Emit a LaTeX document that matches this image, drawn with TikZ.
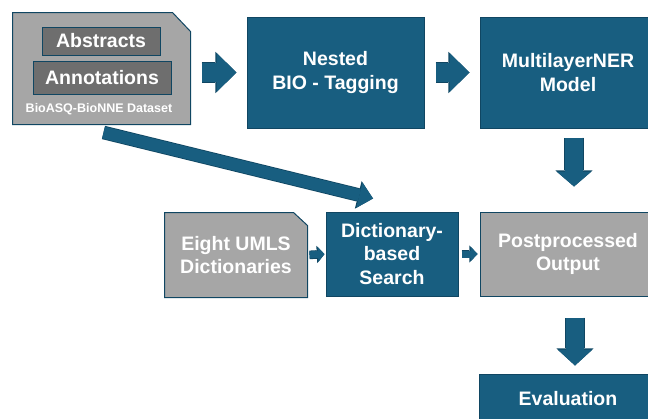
\documentclass[tikz,border=0pt]{standalone}
\usepackage{fontspec}
\setmainfont{Liberation Sans}
\usetikzlibrary{arrows.meta,positioning,backgrounds}

\definecolor{procblue}{RGB}{24,94,128}
\definecolor{edgeblue}{RGB}{16,70,98}
\definecolor{docgray}{RGB}{166,166,166}
\definecolor{innergray}{RGB}{110,110,110}

\begin{document}
\begin{tikzpicture}[x=1pt,y=-1pt]
				% We can specify options for the tikz picture using the tikzset command
				\tikzset{
				        procbox/.style={rectangle, draw=edgeblue, line width=1pt, fill=procblue, text=white, align=center, inner sep=0pt, font=\bfseries\fontsize{19.5}{23.5}\selectfont}, % the blue process boxes
				        grayfill/.style={procbox, fill=docgray}, % gray boxes
				        innerbox/.style={procbox, fill=innergray}, % dark boxes inside the dataset
				        docbox/.style={procbox, draw=none, fill=none}, % text of a box with a cut corner
				        docshape/.style={draw=edgeblue, line width=1pt, fill=docgray}, % the cut-corner outline
				        flow/.style args={#1/#2/#3}{draw=procblue, line width=#1, -{Triangle[width=#2, length=#3, line width=0pt]},
				                preaction={draw=edgeblue, line width=#1+1.6pt, -{Triangle[width=#2+2.4pt, length=#3+1.2pt, line width=0pt]}}}, % block arrows: shaft/head width/head length
				}
				\useasboundingbox (0,0) rectangle (648,418);
				\clip (0,0) rectangle (648,418);
				% The dataset with its two parts
				\node[docbox, minimum width=177pt, minimum height=111pt] (data) at (101.5,68.5) {};
				\node[innerbox, minimum width=118pt, minimum height=28pt] (abstracts) at (101,41) {Abstracts};
				\node[innerbox, minimum width=138pt, minimum height=33pt] (annotations) at (102,77.5) {Annotations};
				\node[text=white, font=\bfseries\fontsize{12.5}{14}\selectfont] (datalabel) at (99,109) {BioASQ-BioNNE Dataset};
				% Top row
				\node[procbox, minimum width=177pt, minimum height=111pt] (nested) at (335.5,72.5) {Nested\\BIO - Tagging};
				\node[procbox, minimum width=176pt, minimum height=111pt] (ner) at (568,72.5) {MultilayerNER\\Model};
				% Middle row
				\node[docbox, minimum width=142pt, minimum height=84pt] (umls) at (236,255) {Eight UMLS\\Dictionaries};
				\node[procbox, minimum width=132pt, minimum height=84pt] (dict) at (392,254) {Dictionary-\\based\\Search};
				\node[grayfill, minimum width=176pt, minimum height=84pt] (post) at (568,254) {Postprocessed\\Output};
				% Bottom row
				\node[procbox, minimum width=178pt, minimum height=50pt] (eval) at (568,399) {Evaluation};
				% The cut-corner outlines go behind their texts
				\begin{scope}[on background layer]
				    \filldraw[docshape] (data.south west) -- (data.north west) -- ([xshift=-18pt]data.north east)
				        -- ([yshift=-19pt]data.north east) -- (data.south east) -- cycle;
				    \filldraw[docshape] (umls.south west) -- (umls.north west) -- ([xshift=-14pt]umls.north east)
				        -- ([yshift=-13pt]umls.north east) -- (umls.south east) -- cycle;
				\end{scope}
				% Block arrows between the boxes
				\draw[flow=19pt/39pt/20pt, shorten <=11pt, shorten >=10pt] (data.east |- nested.west) -- (nested.west);
				\draw[flow=19pt/39pt/20pt, shorten <=11pt, shorten >=10pt] (nested.east) -- (ner.west);
				\draw[flow=18pt/35pt/15pt, shorten <=9pt, shorten >=25pt] ([xshift=6pt]ner.south) -- ([xshift=6pt]post.north);
				\draw[flow=18pt/35pt/16pt, shorten <=21pt, shorten >=8pt] ([xshift=7pt]post.south) -- ([xshift=7pt]eval.north);
				\draw[flow=7pt/15pt/6.5pt, shorten <=2pt, shorten >=1pt] (umls.east) -- (dict.west);
				\draw[flow=7pt/15pt/7pt, shorten <=3pt, shorten >=2pt] (dict.east) -- (post.west);
				\draw[flow=12pt/26pt/14pt] ([shift={(2pt,-8pt)}]data.south) -- ([shift={(-19pt,13pt)}]dict.north);
\end{tikzpicture}
\end{document}
